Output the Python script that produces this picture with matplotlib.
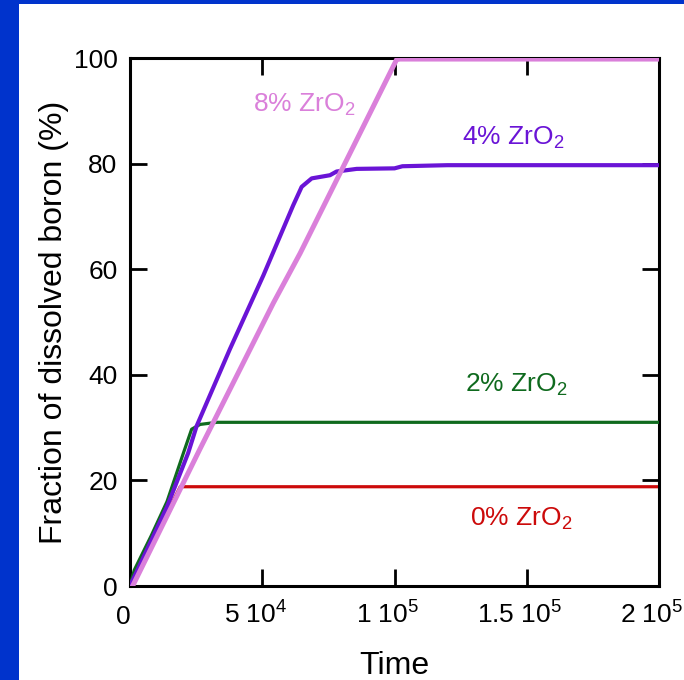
import matplotlib
matplotlib.use('Agg')
import matplotlib.pyplot as plt
from matplotlib.patches import Rectangle
from matplotlib.transforms import ScaledTranslation

plt.rcParams['font.family'] = ['Liberation Sans', 'DejaVu Sans']
plt.rcParams['mathtext.default'] = 'regular'

# dissolution curves, time vs fraction of boron dissolved (%)
t_0 = [0, 19000, 200000]
b_0 = [0, 18.8, 18.8]

t_2 = [0, 1600, 8000, 14000, 20200, 23300, 26500, 32800, 200000]
b_2 = [0, 3.0, 9.5, 16.0, 25.2, 29.7, 30.6, 31.0, 31.0]

t_4 = [0, 14000, 22000, 25200, 37800, 50400, 61700, 64900, 68700, 75600,
       78100, 85700, 100000, 103000, 120000, 200000]
b_4 = [0, 15.0, 25.2, 30.3, 44.9, 58.8, 72.1, 75.6, 77.2, 77.8,
       78.5, 79.0, 79.1, 79.5, 79.7, 79.7]

t_8 = [1000, 26500, 54200, 64300, 84400, 100800, 102000, 200000]
b_8 = [0, 26.0, 53.6, 63.0, 83.2, 99.7, 99.8, 99.8]

xticks = [0, 50000, 100000, 150000, 200000]
xticklabels = ['0', '5 10$^4$', '1 10$^5$', '1.5 10$^5$', '2 10$^5$']
yticks = [0, 20, 40, 60, 80, 100]

c_0 = '#cc0a0a'
c_2 = '#0f6a1e'
c_4 = '#6a14d6'
c_8 = '#da80da'

fig = plt.figure(figsize=(6.84, 6.80), dpi=100)
# blue frame strips on the left and top
fig.patches.append(Rectangle((0, 0), 19 / 684, 1, transform=fig.transFigure,
                             facecolor='#0033cc', edgecolor='none', zorder=0))
fig.patches.append(Rectangle((0, 1 - 4 / 680), 1, 4 / 680, transform=fig.transFigure,
                             facecolor='#0033cc', edgecolor='none', zorder=0))

ax = fig.add_axes([130 / 684, 94 / 680, 529 / 684, 528 / 680])

ax.plot(t_0, b_0, color=c_0, lw=2.3, zorder=2)
ax.plot(t_2, b_2, color=c_2, lw=2.3, zorder=3)
ax.plot(t_4, b_4, color=c_4, lw=3.0, zorder=4)
ax.plot(t_8, b_8, color=c_8, lw=3.6, zorder=5)

ax.text(46500, 89.8, '8% ZrO$_2$', color=c_8, fontsize=19)
ax.text(125500, 83.6, '4% ZrO$_2$', color=c_4, fontsize=19)
ax.text(126700, 36.7, '2% ZrO$_2$', color=c_2, fontsize=19)
ax.text(128500, 11.4, '0% ZrO$_2$', color=c_0, fontsize=19)

ax.set_xlim(0, 200000)
ax.set_ylim(0, 100)
ax.set_xticks(xticks)
ax.set_xticklabels(xticklabels)
ax.set_yticks(yticks)

ax.tick_params(direction='in', length=12, width=2.0, top=True, right=True,
               labelsize=19, pad=9)
ax.tick_params(axis='x', pad=27)
# x labels sit on a common baseline, nudged a little left of their ticks
shift = ScaledTranslation(-7 / 100, 0, fig.dpi_scale_trans)
for lbl in ax.get_xticklabels():
    lbl.set_va('baseline')
    lbl.set_transform(lbl.get_transform() + shift)
for s in ax.spines.values():
    s.set_linewidth(2.2)

ax.set_xlabel('Time', fontsize=23, labelpad=16)
ax.set_ylabel('Fraction of dissolved boron (%)', fontsize=23, labelpad=3)

fig.savefig('out.png', dpi=100)
